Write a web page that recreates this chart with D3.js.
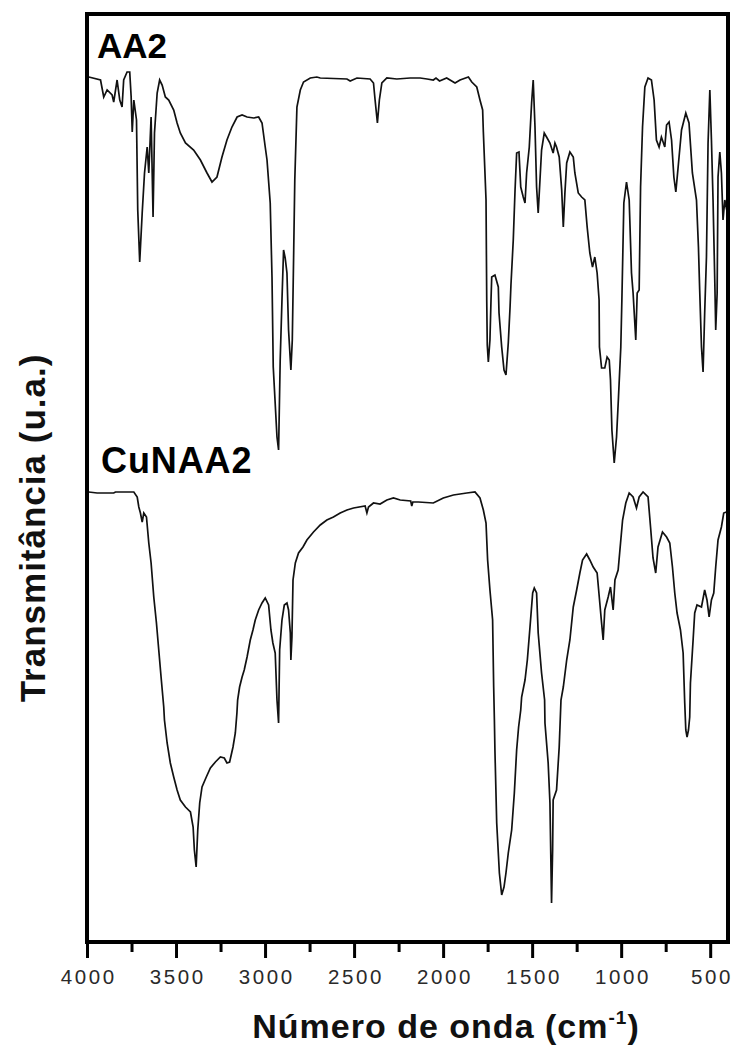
<!DOCTYPE html>
<html>
<head>
<meta charset="utf-8">
<script src="https://cdn.jsdelivr.net/npm/d3@7"></script>
<style>
  html, body { margin: 0; padding: 0; background: #fff; }
  svg { display: block; }
  text { font-family: "Liberation Sans", Arial, sans-serif; }
</style>
</head>
<body>
<script>
// FTIR spectra: [wavenumber (cm-1), transmittance (a.u., offset per sample)]
const aa2 = [
  [3990,86.5],[3924,86.2],[3906,84.5],[3887,85.2],[3859,84.7],[3850,84.0],[3831,86.2],[3816,84.2],
  [3803,83.5],[3794,86.2],[3775,87.0],[3760,87.0],[3752,84.5],[3746,81.0],[3737,84.2],[3722,82.2],
  [3715,73.2],[3704,68.0],[3690,72.9],[3677,76.9],[3662,79.5],[3653,76.9],[3640,82.5],[3629,72.5],
  [3621,80.9],[3606,84.9],[3592,86.2],[3578,85.7],[3560,84.5],[3541,84.2],[3513,83.2],[3494,81.9],
  [3476,80.9],[3447,79.9],[3401,79.2],[3363,78.2],[3326,76.9],[3298,76.0],[3270,76.5],[3242,78.5],
  [3214,80.2],[3186,81.5],[3157,82.5],[3129,82.7],[3101,82.5],[3064,82.4],[3036,82.5],[3017,81.9],
  [2999,79.5],[2989,78.2],[2971,73.9],[2961,66.5],[2954,57.5],[2933,50.5],[2924,49.2],[2915,58.2],
  [2905,64.2],[2896,69.2],[2887,68.4],[2877,66.9],[2868,61.2],[2855,57.2],[2847,60.2],[2839,69.2],
  [2833,76.2],[2821,83.5],[2802,85.2],[2784,86.0],[2746,86.4],[2709,86.5],[2690,86.4],[2540,86.3],
  [2522,86.1],[2484,86.4],[2410,86.3],[2391,85.9],[2382,84.2],[2369,81.9],[2358,84.2],[2344,85.9],
  [2316,86.4],[2260,86.3],[2185,86.4],[2129,86.4],[2090,86.3],[2055,86.2],[2040,86.4],[2020,86.1],
  [1980,86.4],[1933,85.9],[1905,86.2],[1858,86.5],[1839,86.0],[1811,85.5],[1793,84.2],[1778,83.2],
  [1774,81.0],[1759,74.2],[1755,64.2],[1752,59.7],[1746,58.0],[1737,60.2],[1731,64.2],[1727,66.5],
  [1709,66.7],[1690,65.5],[1686,62.9],[1671,59.5],[1658,57.2],[1647,56.7],[1634,59.9],[1624,63.5],
  [1619,65.7],[1606,70.2],[1596,75.2],[1587,78.9],[1574,79.0],[1564,75.5],[1550,74.5],[1540,73.9],
  [1531,76.9],[1516,79.5],[1503,83.9],[1494,86.2],[1484,81.5],[1475,75.5],[1466,72.9],[1456,76.2],
  [1447,79.2],[1432,80.9],[1419,80.5],[1400,79.9],[1382,78.9],[1372,79.9],[1363,79.5],[1348,78.5],
  [1334,75.2],[1325,71.5],[1316,74.9],[1306,77.9],[1288,79.0],[1269,78.5],[1260,76.9],[1241,74.9],
  [1222,74.5],[1204,74.2],[1191,71.5],[1176,68.9],[1161,67.5],[1148,68.5],[1135,66.9],[1124,64.2],
  [1122,59.5],[1110,57.4],[1092,57.4],[1079,58.5],[1067,58.2],[1060,56.2],[1052,51.2],[1039,47.9],
  [1026,50.5],[1015,54.5],[1002,59.5],[996,64.2],[985,73.9],[970,76.0],[955,74.2],[942,66.9],
  [933,64.9],[918,60.2],[910,64.9],[899,65.2],[891,75.5],[880,81.5],[867,85.5],[849,86.4],
  [830,86.2],[815,84.2],[802,80.2],[787,79.5],[774,80.5],[755,79.5],[745,81.7],[731,82.0],
  [717,80.2],[704,76.5],[693,75.0],[680,77.5],[661,81.2],[637,82.9],[619,81.9],[600,76.9],
  [577,74.2],[566,69.5],[559,65.2],[549,59.5],[540,57.0],[531,62.9],[521,68.5],[512,79.9],
  [502,85.2],[493,80.2],[484,74.2],[474,65.9],[469,61.2],[461,64.9],[456,76.5],[446,79.0],
  [437,76.9],[428,72.2],[418,74.2],[407,73.2]
];

const cunaa2 = [
  [3990,45.0],[3943,44.9],[3850,44.9],[3840,45.0],[3737,45.0],[3718,44.5],[3709,43.5],[3700,42.9],
  [3690,42.0],[3681,42.9],[3666,42.5],[3653,39.9],[3640,37.9],[3625,34.5],[3610,31.9],[3597,29.2],
  [3584,26.5],[3569,23.5],[3565,22.2],[3550,19.9],[3532,17.9],[3513,16.5],[3494,15.2],[3476,14.2],
  [3447,13.5],[3419,13.0],[3404,11.5],[3397,9.2],[3387,7.5],[3378,11.2],[3367,13.9],[3354,15.5],
  [3330,16.5],[3307,17.4],[3279,18.0],[3251,18.5],[3229,18.4],[3214,17.9],[3199,18.0],[3180,19.5],
  [3167,20.9],[3158,22.9],[3154,24.2],[3143,25.5],[3129,26.5],[3117,27.2],[3101,28.5],[3083,30.2],
  [3068,31.2],[3055,32.2],[3036,33.2],[3017,33.9],[2999,34.4],[2980,33.7],[2967,31.2],[2956,29.9],
  [2943,28.9],[2933,24.2],[2924,21.9],[2918,29.2],[2905,32.2],[2892,33.7],[2877,33.9],[2868,33.2],
  [2858,30.9],[2855,28.2],[2849,30.5],[2843,36.2],[2830,37.9],[2812,38.9],[2787,39.5],[2765,40.2],
  [2728,41.0],[2690,41.7],[2653,42.2],[2616,42.5],[2578,42.9],[2540,43.2],[2503,43.4],[2438,43.6],
  [2428,42.9],[2419,43.5],[2391,43.9],[2354,43.8],[2316,44.2],[2279,44.4],[2241,44.2],[2182,44.1],
  [2176,43.6],[2170,44.0],[2139,44.0],[2055,43.9],[1999,44.4],[1942,44.7],[1867,44.9],[1821,45.0],
  [1793,44.4],[1774,43.2],[1759,41.9],[1750,38.2],[1737,35.2],[1722,32.2],[1716,25.5],[1712,22.2],
  [1709,19.2],[1699,11.9],[1684,6.9],[1671,4.7],[1658,5.5],[1647,6.9],[1634,8.9],[1615,11.2],
  [1600,14.9],[1587,19.2],[1576,21.5],[1564,23.2],[1559,24.5],[1540,26.2],[1527,28.2],[1512,31.5],
  [1497,34.9],[1488,35.4],[1475,34.9],[1466,30.9],[1447,26.9],[1430,24.2],[1428,21.9],[1410,17.9],
  [1400,13.9],[1391,3.9],[1385,9.2],[1382,14.2],[1363,15.2],[1348,19.5],[1338,24.2],[1325,25.5],
  [1306,28.2],[1288,30.2],[1269,33.5],[1250,35.2],[1232,36.9],[1217,38.2],[1194,38.8],[1176,38.2],
  [1157,37.5],[1135,36.9],[1120,33.9],[1110,31.9],[1101,30.2],[1092,33.2],[1073,34.5],[1060,35.5],
  [1045,33.2],[1035,36.2],[1017,37.2],[1007,39.2],[992,42.2],[974,43.9],[955,44.9],[933,44.5],
  [914,43.4],[899,44.5],[877,45.0],[849,44.5],[835,41.5],[821,38.4],[806,36.9],[793,39.5],
  [768,41.0],[745,40.5],[727,39.9],[712,37.5],[699,34.9],[686,32.9],[667,31.2],[652,28.9],
  [643,23.9],[637,21.2],[630,20.5],[622,21.2],[615,22.5],[611,25.9],[596,30.2],[587,32.9],
  [574,33.7],[549,33.5],[531,35.2],[518,34.2],[506,32.5],[493,34.2],[480,34.9],[469,37.5],
  [456,40.2],[437,41.5],[424,42.9],[409,43.0]
];

const seriesNames = ["AA2", "CuNAA2"];
const majorTicks = [4000, 3500, 3000, 2500, 2000, 1500, 1000, 500];
const minorTicks = [3750, 3250, 2750, 2250, 1750, 1250, 750];
const xDomain = [4000, 400];
const yDomain = [0, 92.8];

const W = 733, H = 1054;
const plot = { left: 87, right: 728, top: 14, bottom: 942 };

const svg = d3.select("body").append("svg")
  .attr("width", W).attr("height", H);

svg.append("rect").attr("width", W).attr("height", H).attr("fill", "#fff");

const x = d3.scaleLinear().domain(xDomain).range([plot.left, plot.right]);
const y = d3.scaleLinear().domain(yDomain).range([plot.bottom, plot.top]);

const line = d3.line().x(d => x(d[0])).y(d => y(d[1]));

const spectra = svg.append("g").attr("class", "spectra");
[aa2, cunaa2].forEach(data => {
  spectra.append("path")
    .datum(data)
    .attr("d", line)
    .attr("fill", "none")
    .attr("stroke", "#111")
    .attr("stroke-width", 1.7)
    .attr("stroke-linejoin", "miter");
});

// frame
svg.append("rect")
  .attr("x", plot.left).attr("y", plot.top)
  .attr("width", plot.right - plot.left)
  .attr("height", plot.bottom - plot.top)
  .attr("fill", "none")
  .attr("stroke", "#000")
  .attr("stroke-width", 4);

// bottom axis: major ticks with labels, minor ticks without
const axisY = plot.bottom + 2;
const majorAxis = d3.axisBottom(x)
  .tickValues(majorTicks)
  .tickSize(14)
  .tickPadding(11)
  .tickFormat(d3.format("d"));
const gMajor = svg.append("g").attr("transform", `translate(0,${axisY})`).call(majorAxis);
gMajor.select(".domain").remove();
gMajor.selectAll(".tick line").attr("stroke", "#000").attr("stroke-width", 3);
gMajor.selectAll(".tick text")
  .attr("fill", "#2a2a2a")
  .attr("dx", 1.3)
  .style("font-family", "'Liberation Sans', Arial, sans-serif")
  .style("font-size", "20.5px")
  .style("letter-spacing", "2.6px");

const minorAxis = d3.axisBottom(x)
  .tickValues(minorTicks)
  .tickSize(8)
  .tickFormat("");
const gMinor = svg.append("g").attr("transform", `translate(0,${axisY})`).call(minorAxis);
gMinor.select(".domain").remove();
gMinor.selectAll(".tick line").attr("stroke", "#000").attr("stroke-width", 3);

// axis titles
const xTitle = svg.append("text")
  .attr("x", 446).attr("y", 1038)
  .attr("text-anchor", "middle")
  .attr("font-weight", "bold")
  .attr("font-size", 34)
  .attr("letter-spacing", 1)
  .attr("fill", "#111");
xTitle.append("tspan").text("Número de onda (cm");
xTitle.append("tspan").attr("font-size", 19).attr("dy", -14).text("-1");
xTitle.append("tspan").attr("dy", 14).text(")");

svg.append("text")
  .attr("transform", "translate(45,528) rotate(-90)")
  .attr("text-anchor", "middle")
  .attr("font-weight", "bold")
  .attr("font-size", 35)
  .attr("letter-spacing", 1)
  .attr("fill", "#111")
  .text("Transmitância (u.a.)");

// series labels
const labelPos = [[97, 58], [101, 473]];
const labelSize = [35, 36];
seriesNames.forEach((name, i) => {
  svg.append("text")
    .attr("x", labelPos[i][0]).attr("y", labelPos[i][1])
    .attr("font-weight", "bold")
    .attr("font-size", labelSize[i])
    .attr("letter-spacing", i === 1 ? 0.9 : 0)
    .attr("fill", "#000")
    .text(name);
});
</script>
</body>
</html>
